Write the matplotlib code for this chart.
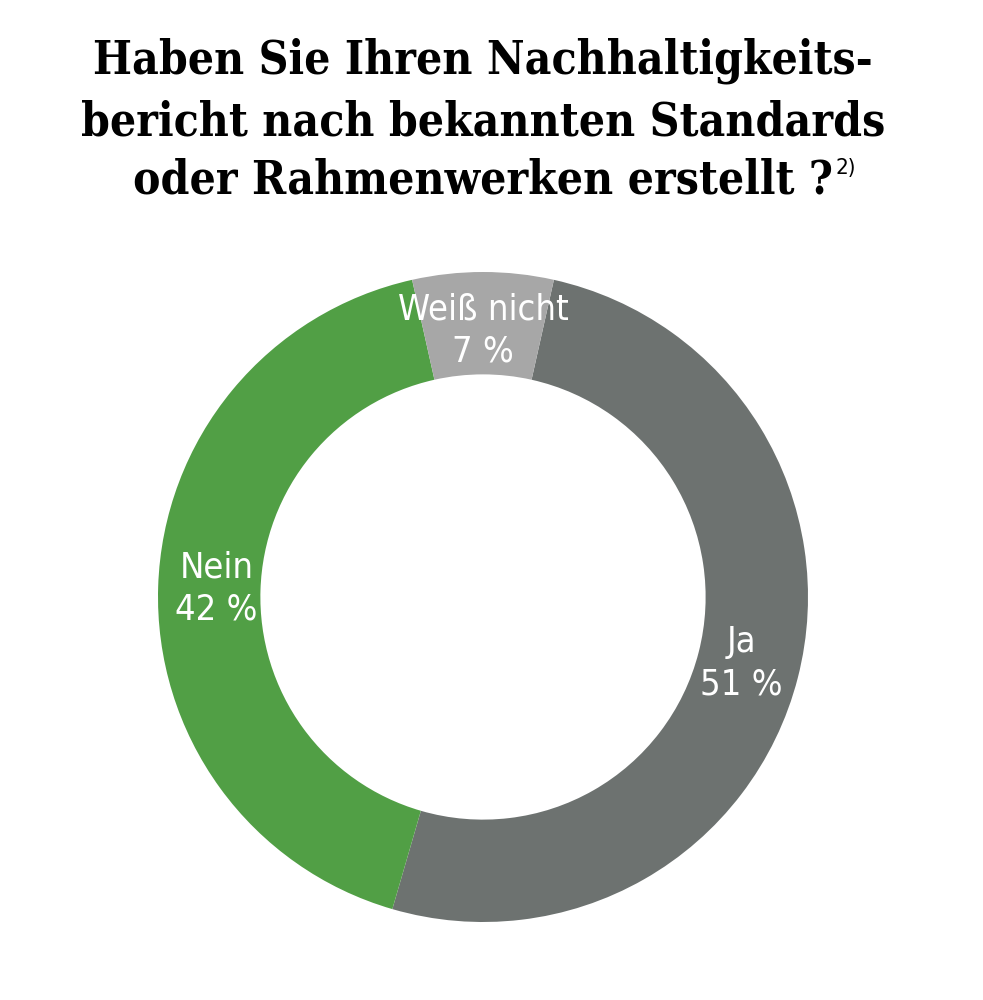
import numpy as np
import matplotlib
matplotlib.use("Agg")
import matplotlib.pyplot as plt

categories = ["Ja", "Nein", "Weiß nicht"]
values = [51, 42, 7]
colors = ["#6d7270", "#519f45", "#a7a7a7"]
title_lines = ["Haben Sie Ihren Nachhaltigkeits-",
               "bericht nach bekannten Standards",
               "oder Rahmenwerken erstellt ?"]
footnote = "2)"

W, H = 983, 1000
fig = plt.figure(figsize=(W / 100, H / 100), dpi=100)

# donut: center (483, 597) px, outer radius 325 px
cx, cy, r_px = 483, 597, 325
half = 330
ax = fig.add_axes([(cx - half) / W, (H - cy - half) / H, 2 * half / W, 2 * half / H])
lim = half / r_px

wedges, _ = ax.pie(values, colors=colors, startangle=77.4, counterclock=False,
                   radius=1.0, wedgeprops=dict(width=0.315, edgecolor="none"))
ax.set_xlim(-lim, lim)
ax.set_ylim(-lim, lim)
ax.axis("off")

lab = dict(family="DejaVu Sans", stretch="condensed", fontsize=26,
           color="white", linespacing=1.3)
for w, cat, v in zip(wedges, categories, values):
    ang = np.deg2rad((w.theta1 + w.theta2) / 2)
    rr = 0.82
    ax.text(rr * np.cos(ang), rr * np.sin(ang), f"{cat}\n{v} %",
            ha="center", va="center", **lab)

tfont = dict(family="DejaVu Serif", weight="bold", stretch="condensed",
             fontsize=33, color="black")
ys = [0.926, 0.864, 0.806]
txts = []
for line, y in zip(title_lines, ys):
    txts.append(fig.text(0.4914, y, line, ha="center", va="baseline", **tfont))

fig.canvas.draw()
bb = txts[2].get_window_extent()
fig.text((bb.x1 + 2) / W, ys[2] + 0.020, footnote, ha="left", va="baseline",
         family="DejaVu Sans", stretch="condensed", fontsize=16, color="black")

fig.savefig("out.png", dpi=100)
